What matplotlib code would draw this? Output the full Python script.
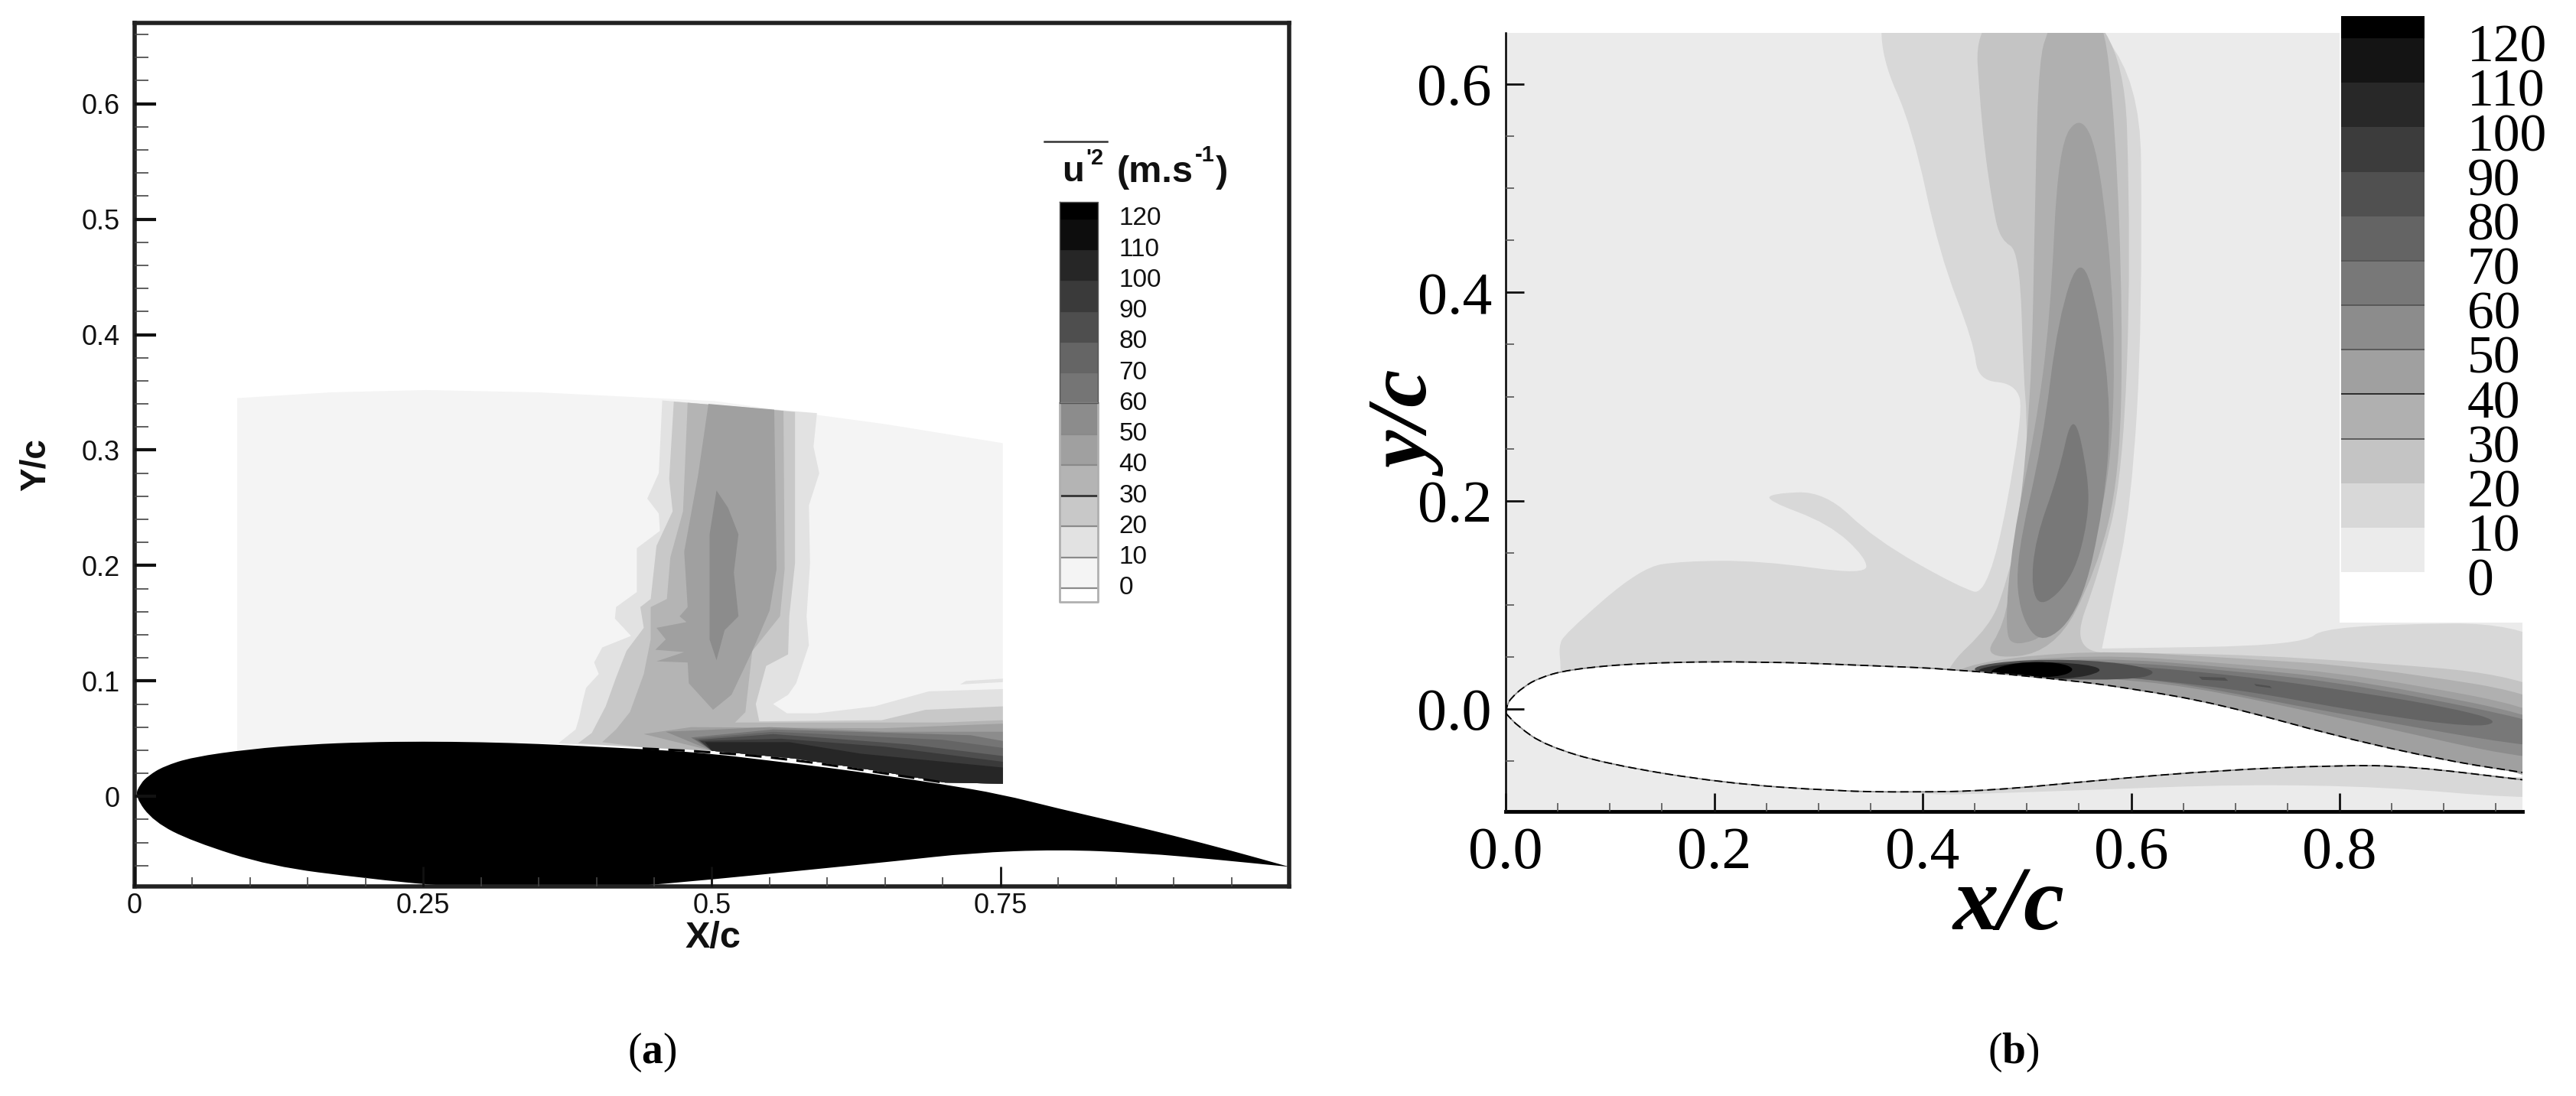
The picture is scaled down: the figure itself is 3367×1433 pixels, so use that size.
#!/usr/bin/env python3
import matplotlib as mpl
mpl.use('Agg')
import matplotlib.pyplot as plt
from matplotlib.path import Path
from matplotlib.patches import PathPatch

plt.rcParams['font.family'] = 'Liberation Sans'
plt.rcParams['mathtext.fontset'] = 'custom'
plt.rcParams['mathtext.rm'] = 'Liberation Serif'
plt.rcParams['mathtext.bf'] = 'Liberation Serif:bold'

W, H = 3367, 1433

# colour bar levels, shared by both panels
LEVELS = [0, 10, 20, 30, 40, 50, 60, 70, 80, 90, 100, 110, 120]
GREYS_A = ['#f4f4f4', '#e2e2e2', '#c8c8c8', '#b4b4b4', '#a0a0a0', '#8c8c8c', '#757575',
           '#656565', '#4e4e4e', '#3a3a3a', '#262626', '#0d0d0d', '#000000']
GREYS_B = ['#ebebeb', '#d8d8d8', '#c4c4c4', '#b0b0b0', '#a0a0a0', '#8c8c8c', '#787878',
           '#646464', '#505050', '#3c3c3c', '#282828', '#141414', '#000000']

# ---- panel (a), airfoil and measured field
foil_a_upper = [(0, 0), (.005, .011), (.012, .018), (.025, .026), (.05, .034), (.1, .041), (.15, .045),
                (.2, .047), (.25, .0475), (.3, .047), (.35, .0455), (.4, .043), (.45, .0405), (.5, .037),
                (.55, .031), (.6, .025), (.65, .018), (.7, .0105), (.75, .002), (.8, -.0105),
                (.85, -.022), (.9, -.034), (.95, -.047), (1.0, -.061)]
foil_a_lower = [(0, 0), (.0165, -.022), (.05, -.039), (.118, -.0606), (.2, -.071), (.27, -.078), (.35, -.08),
                (.42, -.079), (.5, -.072), (.59, -.063), (.66, -.056), (.724, -.049), (.8, -.046),
                (.873, -.049), (.94, -.055), (1.0, -.061)]
wall_a = [(.085, .036), (.15, .044), (.25, .047), (.35, .046), (.44, .0425), (.5, .0395), (.57, .033),
          (.641, .0225), (.702, .012), (.752, .011)]
gap_a = [(.44, .0415), (.5, .0385), (.57, .032), (.641, .0213), (.702, .0118)]
field_a_left = [(.0888, .345), (.0888, .04)]
field_a_top = [(.0888, .345), (.17, .35), (.2525, .352), (.35, .35), (.502, .3425), (.65, .3225), (.752, .306),
               (.752, .011)]

a10_left = [(.457, .343), (.454, .28), (.444, .258), (.454, .245), (.455, .23), (.435, .215), (.435, .177),
            (.417, .164), (.416, .154), (.43, .139), (.405, .129), (.398, .116), (.402, .106), (.391, .094),
            (.388, .082), (.385, .068), (.382, .058), (.367, .046)]
a10_right = [(.591, .332), (.588, .303), (.593, .28), (.584, .252), (.585, .202), (.582, .156), (.584, .131),
             (.573, .098), (.566, .088), (.553, .08), (.565, .072), (.591, .072), (.641, .078), (.688, .091),
             (.752, .093), (.752, .011)]
a10_spot = [(.715, .097), (.752, .099), (.752, .102), (.72, .1)]
a20_left = [(.467, .342), (.463, .275), (.466, .247), (.452, .217), (.447, .171), (.438, .164), (.441, .146),
            (.426, .126), (.417, .103), (.408, .078), (.396, .055), (.384, .046)]
a20_right = [(.572, .333), (.572, .202), (.567, .156), (.566, .123), (.547, .113), (.538, .08), (.541, .065),
             (.647, .066), (.685, .075), (.752, .078), (.752, .011)]
a30_left = [(.479, .341), (.475, .247), (.464, .207), (.461, .171), (.447, .164), (.447, .136), (.441, .106),
            (.429, .073), (.417, .058), (.405, .047)]
a30_right = [(.562, .334), (.563, .197), (.559, .156), (.535, .126), (.529, .073), (.52, .064), (.7, .064),
             (.752, .066), (.752, .011)]
a40_plume = [(.497, .34), (.488, .278), (.476, .212), (.479, .164), (.472, .156), (.478, .151), (.452, .146),
             (.46, .136), (.451, .127), (.476, .125), (.452, .117), (.479, .116), (.48, .098), (.501, .075),
             (.517, .088), (.535, .126), (.55, .161), (.556, .197), (.554, .335)]
a50_plume = [(.504, .265), (.514, .25), (.523, .227), (.519, .194), (.523, .156), (.511, .144), (.504, .118),
             (.498, .136), (.498, .227)]
# upper edges of the dark layer on the rear of the airfoil
a_wake = {40: [(.441, .054), (.482, .06), (.647, .059), (.752, .063)],
          50: [(.46, .056), (.55, .06), (.65, .056), (.752, .056)],
          60: [(.482, .051), (.553, .058), (.724, .053), (.752, .048)],
          70: [(.485, .05), (.553, .056), (.7, .049), (.752, .042)],
          80: [(.488, .049), (.553, .054), (.671, .045), (.752, .035)],
          90: [(.49, .048), (.56, .05), (.65, .043), (.752, .03)],
          100: [(.494, .047), (.567, .047), (.629, .037), (.752, .025)]}

# ---- panel (b), airfoil and computed field
domain_b = [(0, -.0985), (0, .6493), (.8, .6493), (.8, .083), (.9754, .083), (.9754, -.0985)]
foil_b_upper = [(0, -.004), (.002, .006), (.008, .013), (.016, .02), (.03, .029), (.06, .038), (.134, .0445),
                (.244, .0457), (.354, .0414), (.427, .0384), (.537, .028), (.598, .02), (.684, .005), (.8, -.027),
                (.904, -.05), (.9754, -.061)]
foil_b_lower = [(0, -.004), (.012, -.017), (.038, -.035), (.097, -.053), (.207, -.071), (.317, -.079), (.39, -.08),
                (.464, -.0786), (.574, -.068), (.684, -.059), (.8, -.054), (.867, -.055), (.9754, -.068)]
# runs just inside the airfoil so that the layers close under its outline
under_b = [(1.03, -.072), (.9, -.051), (.8, -.03), (.684, .002), (.5, 0)]
b10_under = [(.39, -.075), (.574, -.06), (.684, -.05), (.8, -.045), (1.03, -.06), (1.03, -.091), (.783, -.0696),
             (.4825, -.0807), (.399, -.083)]
b10 = [(.051, .06), (.0565, .072), (.13, .136), (.17, .142), (.244, .1425), (.346, .1285), (.346, .145), (.31, .178),
       (.251, .2), (.255, .207), (.306, .209), (.354, .163), (.434, .1175), (.464, .108), (.497, .285), (.489, .3125),
       (.453, .3155), (.449, .352), (.416, .437), (.39, .559), (.36, .626), (.361, .68), (.608, .68), (.611, .376),
       (.6, .194), (.581, .102), (.572, .058), (.572, .058), (.765, .061), (.787, .081), (1.03, .083)] + under_b + \
      [(.053, 0), (.053, .041)]
b20 = [(.449, .68), (.4565, .559), (.4675, .48), (.475, .45), (.493, .44), (.497, .3155), (.5, .285), (.5, .2),
       (.48, .12), (.465, .08), (.42, .038), (.42, 0)] + under_b[::-1] + \
      [(1.03, .028), (.757, .0506), (.611, .054), (.541, .054), (.57, .133), (.592, .224), (.6, .437), (.592, .68)]
b30_plume = [(.5116, .626), (.522, .655), (.528, .68), (.572, .68), (.585, .559), (.592, .376), (.589, .224),
             (.567, .133), (.526, .054), (.4565, .0475), (.4785, .081), (.486, .133), (.504, .285), (.508, .498)]
b40_plume = [(.53, .541), (.552, .572), (.57, .529), (.585, .376), (.581, .224), (.5556, .133), (.5226, .072),
             (.4895, .06), (.4785, .072), (.486, .163), (.508, .267), (.5226, .376)]
b50_plume = [(.53, .376), (.552, .44), (.57, .376), (.581, .285), (.574, .194), (.552, .096), (.515, .06),
             (.493, .09), (.4895, .145), (.515, .2546)]
b60_plume = [(.53, .224), (.5446, .29), (.559, .224), (.559, .1815), (.5446, .1267), (.515, .097), (.504, .1145),
             (.508, .163)]
b_wake = {30: [(.43, .042), (.5555, .057), (.697, .049), (.826, .0406), (1.03, .008)] + under_b + [(.43, .02)],
          40: [(.44, .041), (.56, .053), (.697, .0435), (.826, .032), (1.03, -.007)] + under_b + [(.44, .02)],
          50: [(.45, .04), (.564, .05), (.697, .04), (.826, .0265), (1.03, -.015), (1.03, -.06), (.783, -.0047),
               (.654, .0222), (.568, .03)],
          60: [(.46, .039), (.564, .047), (.697, .037), (.826, .022), (1.03, -.02), (1.03, -.045),
               (.783, -.002), (.654, .024), (.568, .033)],
          70: [(.47, .038), (.568, .044), (.697, .033), (.826, .015), (.911, .0002), (.955, -.012),
               (.929, -.018), (.826, -.004), (.697, .02), (.568, .033)],
          80: [(.44, .04), (.5, .048), (.58, .046), (.63, .036), (.6, .027), (.47, .03)],
          100: [(.445, .038), (.5, .046), (.56, .043), (.575, .036), (.54, .028), (.47, .03)],
          120: [(.46, .036), (.49, .045), (.53, .045), (.548, .038), (.53, .03), (.48, .031)]}
b80_spots = [[(.665, .031), (.69, .03), (.693, .027), (.668, .028)], [(.718, .024), (.733, .022), (.735, .02), (.72, .022)]]

x_ticks_a = [0, .25, .5, .75]
x_ticks_a_labels = ['0', '0.25', '0.5', '0.75']
y_ticks_a = [0, .1, .2, .3, .4, .5, .6]
y_ticks_a_labels = ['0', '0.1', '0.2', '0.3', '0.4', '0.5', '0.6']
x_ticks_b = [0, .2, .4, .6, .8]
y_ticks_b = [0, .2, .4, .6]


def AddAxes(Fig, Left, Top, Right, Bottom):
    return Fig.add_axes([Left / W, 1 - Bottom / H, (Right - Left) / W, (Bottom - Top) / H])


def Poly(Axe, Pts, Colour, **Kw):
    Axe.fill([p[0] for p in Pts], [p[1] for p in Pts], color=Colour, lw=0, **Kw)


def Mid(P, Q):
    return ((P[0] + Q[0]) / 2, (P[1] + Q[1]) / 2)


def SmoothClosed(Axe, Pts, Colour):
    # quadratic curve using the read points as control points
    Verts = [Mid(Pts[-1], Pts[0])]
    Codes = [Path.MOVETO]
    for i in range(len(Pts)):
        Verts += [Pts[i], Mid(Pts[i], Pts[(i + 1) % len(Pts)])]
        Codes += [Path.CURVE3, Path.CURVE3]
    Axe.add_patch(PathPatch(Path(Verts, Codes), facecolor=Colour, edgecolor='none', lw=0))


def SmoothOpen(Pts):
    Verts = [Pts[0], Mid(Pts[0], Pts[1])]
    Codes = [Path.MOVETO, Path.LINETO]
    for i in range(1, len(Pts) - 1):
        Verts += [Pts[i], Mid(Pts[i], Pts[i + 1])]
        Codes += [Path.CURVE3, Path.CURVE3]
    Verts.append(Pts[-1])
    Codes.append(Path.LINETO)
    return Path(Verts, Codes)


def Ring(Left, Right):
    # left edge downwards, along the wall, right edge upwards
    Wall = [p for p in wall_a if Left[-1][0] < p[0] < Right[-1][0]]
    return Left + Wall + Right[::-1]


def Band(Upper):
    Wall = [p for p in wall_a if Upper[0][0] < p[0] <= Upper[-1][0]]
    return Upper + Wall[::-1]


def GreyA(Level):
    return GREYS_A[LEVELS.index(Level)]


def GreyB(Level):
    return GREYS_B[LEVELS.index(Level)]


Fig = plt.figure(figsize=(W / 100, H / 100), dpi=100)

# ---------- panel (a)
Axe = AddAxes(Fig, 176, 30, 1685, 1159)
Axe.set_xlim(0, 1.0)
Axe.set_ylim(-.078, .670)

Poly(Axe, Ring(field_a_left, field_a_top), GreyA(0))
Poly(Axe, Ring(a10_left, a10_right), GreyA(10))
Poly(Axe, a10_spot, GreyA(10))
Poly(Axe, Ring(a20_left, a20_right), GreyA(20))
Poly(Axe, Ring(a30_left, a30_right), GreyA(30))
Poly(Axe, a40_plume, GreyA(40))
Poly(Axe, a50_plume, GreyA(50))
for Level in a_wake:
    Poly(Axe, Band(a_wake[Level]), GreyA(Level))
SmoothClosed(Axe, foil_a_upper + foil_a_lower[::-1][:-1], '#000000')
Axe.add_patch(PathPatch(SmoothOpen(gap_a), fill=False, edgecolor='#000000', lw=2.2, linestyle=(0, (7, 4))))

Axe.set_axisbelow(False)
Axe.set_xticks(x_ticks_a)
Axe.set_xticklabels(x_ticks_a_labels)
Axe.set_yticks(y_ticks_a)
Axe.set_yticklabels(y_ticks_a_labels)
Axe.set_xticks([i * .05 for i in range(1, 20) if i % 5], minor=True)
Axe.set_yticks([i * .02 - .06 for i in range(0, 37) if (i - 3) % 5], minor=True)
Axe.tick_params(axis='x', which='major', direction='in', length=19, width=2, labelsize=26, pad=6, colors='#111111')
Axe.tick_params(axis='y', which='major', direction='in', length=20, width=3, labelsize=26, pad=14, colors='#111111')
Axe.tick_params(which='minor', direction='in', length=9, width=1.2, color='#444444')
Axe.tick_params(axis='y', which='minor', length=13)
for Side in Axe.spines:
    Axe.spines[Side].set_linewidth(4)
    Axe.spines[Side].set_color('#222222')
Fig.text(434 * 2.147 / W, 1 - 1226 / H, 'X/c', fontsize=35, fontweight='bold', ha='center', va='center', color='#111111')
Fig.text(47 / W, 1 - 608 / H, 'Y/c', fontsize=33, fontweight='bold', ha='center', va='center', rotation=90, color='#111111')

# colour bar (a)
Bar = AddAxes(Fig, 1385, 264, 1435, 787)
Bar.set_xlim(0, 1)
Bar.set_ylim(-4.5, 125.4)
Bar.axis('off')
Bar.bar(.5, 4.5, width=1, bottom=-4.5, color='#ffffff')
for i, Level in enumerate(LEVELS):
    Top = LEVELS[i + 1] if i + 1 < len(LEVELS) else 125.4
    Bar.bar(.5, Top - Level, width=1, bottom=Level, color=GREYS_A[i])
for i, Level in enumerate(LEVELS):
    if Level == 30:
        Edge = '#333333'
    elif Level <= 60:
        Edge = '#8a8a8a'
    else:
        Edge = GREYS_A[i]
    Bar.axhline(Level, color=Edge, lw=2 if Level == 30 else 1.6)
    Bar.text(1.55, Level, str(Level), fontsize=24, ha='left', va='center', color='#111111',
             transform=Bar.get_yaxis_transform())
Bar.plot([0, 0, 1, 1], [60, -4.5, -4.5, 60], color='#b0b0b0', lw=2, clip_on=False)
Bar.plot([0, 0, 1, 1, 0], [125.4, 60, 60, 125.4, 125.4], color='#555555', lw=1, clip_on=False)

Tone = '#111111'
Fig.text(1388 / W, 1 - 225 / H, 'u', fontsize=34, fontweight='bold', ha='left', va='center', color=Tone)
Fig.text(1419 / W, 1 - 207 / H, "'2", fontsize=21, fontweight='bold', ha='left', va='center', color=Tone)
Fig.text(1460 / W, 1 - 225 / H, '(m.s', fontsize=35, fontweight='bold', ha='left', va='center', color=Tone)
Fig.text(1562 / W, 1 - 203 / H, '-1', fontsize=21, fontweight='bold', ha='left', va='center', color=Tone)
Fig.text(1589 / W, 1 - 225 / H, ')', fontsize=35, fontweight='bold', ha='left', va='center', color=Tone)
Fig.add_artist(plt.Line2D([1365 / W, 1447 / W], [1 - 185 / H, 1 - 185 / H], color='#333333', lw=1.8))

# ---------- panel (b)
Axe2 = AddAxes(Fig, 1968, 43, 3297, 1061)
Axe2.set_xlim(0, .9754)
Axe2.set_ylim(-.0985, .6493)
Poly(Axe2, domain_b, GreyB(0))
SmoothClosed(Axe2, b10, GreyB(10))
SmoothClosed(Axe2, b10_under, GreyB(10))
SmoothClosed(Axe2, b20, GreyB(20))
for Level in (30, 40, 50, 60, 70):
    SmoothClosed(Axe2, b_wake[Level], GreyB(Level))
for Spot in b80_spots:
    Poly(Axe2, Spot, GreyB(80))
SmoothClosed(Axe2, b30_plume, GreyB(30))
SmoothClosed(Axe2, b40_plume, GreyB(40))
SmoothClosed(Axe2, b50_plume, GreyB(50))
SmoothClosed(Axe2, b60_plume, GreyB(60))
for Level in (80, 100, 120):
    SmoothClosed(Axe2, b_wake[Level], GreyB(Level))
SmoothClosed(Axe2, foil_b_upper + foil_b_lower[::-1][:-1], '#ffffff')
for Edge in (foil_b_upper, foil_b_lower):
    Axe2.add_patch(PathPatch(SmoothOpen(Edge), fill=False, edgecolor='#8a8a8a', lw=1.2))
    Axe2.add_patch(PathPatch(SmoothOpen(Edge), fill=False, edgecolor='#000000', lw=1.3, linestyle=(0, (6, 3))))

Axe2.set_axisbelow(False)
Axe2.set_xticks(x_ticks_b)
Axe2.set_xticklabels(['%.1f' % v for v in x_ticks_b], fontfamily='Liberation Serif')
Axe2.set_yticks(y_ticks_b)
Axe2.set_yticklabels(['%.1f' % v for v in y_ticks_b], fontfamily='Liberation Serif')
Axe2.set_xticks([i * .05 for i in range(1, 20) if i % 4], minor=True)
Axe2.set_yticks([i * .05 for i in range(-1, 13) if i % 4], minor=True)
Axe2.tick_params(which='major', direction='in', length=17, width=2, labelsize=56, color='#111111')
Axe2.tick_params(axis='x', which='major', pad=14)
Axe2.tick_params(axis='y', which='major', pad=13)
Axe2.tick_params(which='minor', direction='in', length=8, width=1.2, color='#555555')
Axe2.spines['top'].set_visible(False)
Axe2.spines['right'].set_visible(False)
Axe2.spines['bottom'].set_linewidth(3.5)
Axe2.spines['left'].set_linewidth(1.8)
Fig.text(2625 / W, 1 - 1186 / H, 'x/c', fontsize=86, fontfamily='Liberation Serif', fontweight='bold', fontstyle='italic',
         ha='center', va='center')
Fig.text(1848 / W, 1 - 558 / H, 'y/c', fontsize=80, fontfamily='Liberation Serif', fontweight='bold', fontstyle='italic',
         ha='center', va='center', rotation=90)

# colour bar (b)
Bar2 = AddAxes(Fig, 3060, 21, 3169, 748)
Bar2.set_xlim(0, 1)
Bar2.set_ylim(0, 125)
Bar2.axis('off')
for i, Level in enumerate(LEVELS):
    Top = LEVELS[i + 1] if i + 1 < len(LEVELS) else 125
    Bar2.bar(.5, Top - Level, width=1, bottom=Level, color=GREYS_B[i])
    if Level in (30, 40, 50, 60, 70):
        Bar2.axhline(Level, color='#222222' if Level == 40 else '#555555', lw=1.3)
    Bar2.text(1.51, Level - 2.4, str(Level), fontsize=50, fontfamily='Liberation Serif', ha='left', va='center',
              transform=Bar2.get_yaxis_transform(), clip_on=False)

Fig.text(852 / W, 1 - 1376 / H, r'$(\mathbf{a})$', fontsize=40, ha='center', va='center')
Fig.text(2632 / W, 1 - 1376 / H, r'$(\mathbf{b})$', fontsize=40, ha='center', va='center')

plt.savefig('out.png', dpi=100)
